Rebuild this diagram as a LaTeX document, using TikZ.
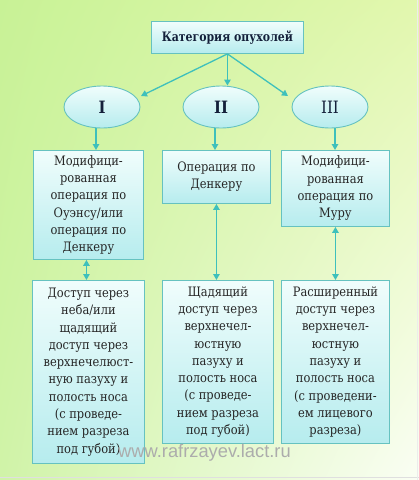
\documentclass[tikz,border=0pt]{standalone}
\usepackage{fontspec}
\newfontfamily\serf[FakeStretch=0.88]{DejaVu Serif}
\newfontfamily\serfb[FakeStretch=0.84]{DejaVu Serif}
\newfontfamily\wmfont{Liberation Sans}
\usetikzlibrary{arrows.meta,shapes.geometric,calc,shadings}
\definecolor{bgA}{HTML}{C8F296}
\definecolor{bgB}{HTML}{E2F7AE}
\definecolor{bgC}{HTML}{D0F3A8}
\definecolor{bgD}{HTML}{FAFEF4}
\definecolor{edge}{HTML}{66C2C0}
\definecolor{arr}{HTML}{3EC0BC}
\definecolor{boxtop}{HTML}{F0FDFC}
\definecolor{boxbot}{HTML}{B6ECEE}
\definecolor{ink}{HTML}{262626}
\definecolor{navy}{HTML}{14203A}
\tikzset{
  box/.style={draw=edge, line width=0.9pt, top color=boxtop, bottom color=boxbot,
    anchor=north west, align=center, inner sep=2pt, text=ink,
    font=\serf\fontsize{13}{17.3}\selectfont},
  oval/.style={ellipse, draw=edge, line width=0.9pt, top color=boxtop, bottom color=boxbot,
    minimum width=76pt, minimum height=42pt, inner sep=0pt, text=navy,
    font=\serf\fontsize{17}{20}\selectfont},
  con/.style={draw=arr, line width=1.3pt, -{Triangle[length=6pt,width=6.5pt]}},
  dcon/.style={draw=arr, line width=1.3pt, {Triangle[length=6pt,width=6.5pt]}-{Triangle[length=6pt,width=6.5pt]}},
}
\begin{document}
\begin{tikzpicture}[x=1pt,y=-1pt]
\useasboundingbox (0,0) rectangle (419,480);
\shade[upper left=bgA, upper right=bgB, lower left=bgC, lower right=bgD] (0,0) rectangle (419,480);
\draw[gray!25, line width=0.8pt] (0,477) -- (419,477);
\draw[gray!15, line width=0.8pt] (417,0) -- (417,480);

\node[box, minimum width=152pt, minimum height=32pt, text=navy,
  font=\serfb\bfseries\fontsize{13}{17}\selectfont] (top) at (151,21) {Категория опухолей};

\node[oval] (e1) at (102,107) {\bfseries I};
\node[oval] (e2) at (221,107) {\bfseries II};
\node[oval] (e3) at (330,107) {III};

\node[box, minimum width=110pt, minimum height=109pt] (m1) at (33,150)
  {Модифици-\\рованная\\операция по\\Оуэнсу/или\\операция по\\Денкеру};
\node[box, minimum width=108pt, minimum height=53pt] (m2) at (162,150)
  {Операция по\\Денкеру};
\node[box, minimum width=108pt, minimum height=76pt] (m3) at (281,150)
  {Модифици-\\рованная\\операция по\\Муру};

\node[box, minimum width=112pt, minimum height=183pt] (b1) at (32,280)
  {Доступ через\\неба/или\\щадящий\\доступ через\\верхнечелюст-\\ную пазуху и\\полость носа\\(с проведе-\\нием разреза\\под губой)};
\node[box, minimum width=111pt, minimum height=163pt] (b2) at (162,280)
  {Щадящий\\доступ через\\верхнечел-\\юстную\\пазуху и\\полость носа\\(с проведе-\\нием разреза\\под губой)};
\node[box, minimum width=108pt, minimum height=163pt] (b3) at (281,280)
  {Расширенный\\доступ через\\верхнечел-\\юстную\\пазуху и\\полость носа\\(с проведени-\\ем лицевого\\разреза)};

\coordinate (t1) at (141,96);
\coordinate (t3) at (288,96);
\draw[con] (top.south) -- (t1);
\draw[con] (top.south) -- (e2.north -| top.south);
\draw[con] (top.south) -- (t3);

\draw[con] ([xshift=-6pt]e1.south) -- ([xshift=-6pt]e1.south |- m1.north);
\draw[con] ([xshift=-6pt]e2.south) -- ([xshift=-6pt]e2.south |- m2.north);
\draw[con] ([xshift=5pt]e3.south) -- ([xshift=5pt]e3.south |- m3.north);

\draw[dcon] ([xshift=-2pt]m1.south) -- ([xshift=-2pt]m1.south |- b1.north);
\draw[dcon] (m2.south) -- (m2.south |- b2.north);
\draw[dcon] (m3.south) -- (m3.south |- b3.north);

\node[font=\wmfont\fontsize{18.3}{20}\selectfont, text=gray!65, anchor=base west, inner sep=0pt] (wm) at (118,457) {www.rafrzayev.lact.ru};
\end{tikzpicture}
\end{document}
